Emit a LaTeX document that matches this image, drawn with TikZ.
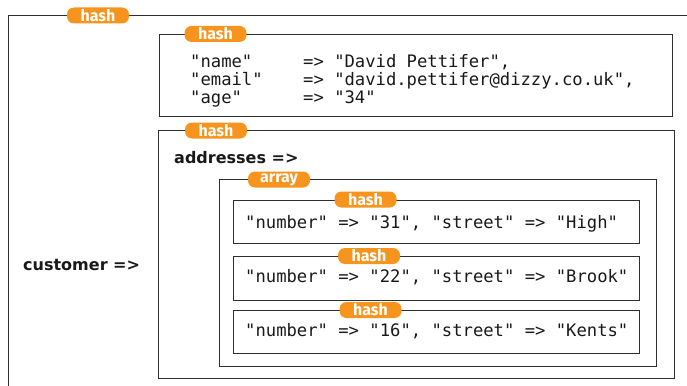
\documentclass[tikz,border=0pt]{standalone}
\usepackage{fontspec}
\setmonofont{DejaVu Sans Mono}
\setsansfont{Fira Sans}
\newfontfamily\keyfont{DejaVu Sans}
\definecolor{tagorange}{HTML}{F7941D}
\definecolor{framegray}{HTML}{2E2E2E}
\begin{document}
\begin{tikzpicture}[x=1pt, y=-1pt,
  frame/.style={draw=framegray, line width=1.3pt, rectangle, inner sep=0pt, anchor=north west},
  tag/.style={fill=tagorange, rounded corners=7pt, minimum width=62pt, minimum height=16pt,
    inner sep=0pt, text=white, font=\sffamily\bfseries\fontsize{16}{16}\selectfont},
  code/.style={font=\ttfamily\fontsize{17.2}{17.2}\selectfont, text=black!90, inner sep=0pt, anchor=base west},
  keyname/.style={font=\keyfont\bfseries\fontsize{16}{16}\selectfont, text=black!90, inner sep=0pt, anchor=base west}]
\useasboundingbox (0,0) rectangle (687,385);
\clip (0,0) rectangle (687,385);

% outermost hash, open to the right and below
\node[frame, minimum width=700pt, minimum height=400pt] (customer) at (8,15) {};
\node[tag] (tagcustomer) at (98,15.5) {hash};
\node[keyname] (customerkey) at (23,270) {customer =>};

% personal details hash
\node[frame, minimum width=513pt, minimum height=82pt] (details) at (159,34) {};
\node[tag] (tagdetails) at (215.5,34) {hash};
\node[code] (lname)  at (190,68)  {\makebox[113pt][l]{"name"}=>\ "David Pettifer",};
\node[code] (lemail) at (190,85.5){\makebox[113pt][l]{"email"}=>\ "david.pettifer@dizzy.co.uk",};
\node[code] (lage)   at (190,103) {\makebox[113pt][l]{"age"}=>\ "34"};

% addresses hash
\node[frame, minimum width=516pt, minimum height=248pt] (addr) at (158,130) {};
\node[tag] (tagaddr) at (216,130.5) {hash};
\node[keyname] (addrkey) at (174,163) {addresses =>};

% array of address hashes
\node[frame, minimum width=437pt, minimum height=187pt] (list) at (219,179) {};
\node[tag] (taglist) at (279,179.5) {array};

\node[frame, minimum width=406pt, minimum height=43pt] (adra) at (233,199.5) {};
\node[tag] (taga) at (365.5,199.5) {hash};
\node[code] (texta) at (245,228) {"number" => "31", "street" => "High"};

\node[frame, minimum width=406pt, minimum height=43.5pt] (adrb) at (233,256) {};
\node[tag] (tagb) at (369,256) {hash};
\node[code] (textb) at (245,282) {"number" => "22", "street" => "Brook"};

\node[frame, minimum width=406pt, minimum height=43pt] (adrc) at (233,310) {};
\node[tag] (tagc) at (370.5,310) {hash};
\node[code] (textc) at (245,336) {"number" => "16", "street" => "Kents"};
\end{tikzpicture}
\end{document}
